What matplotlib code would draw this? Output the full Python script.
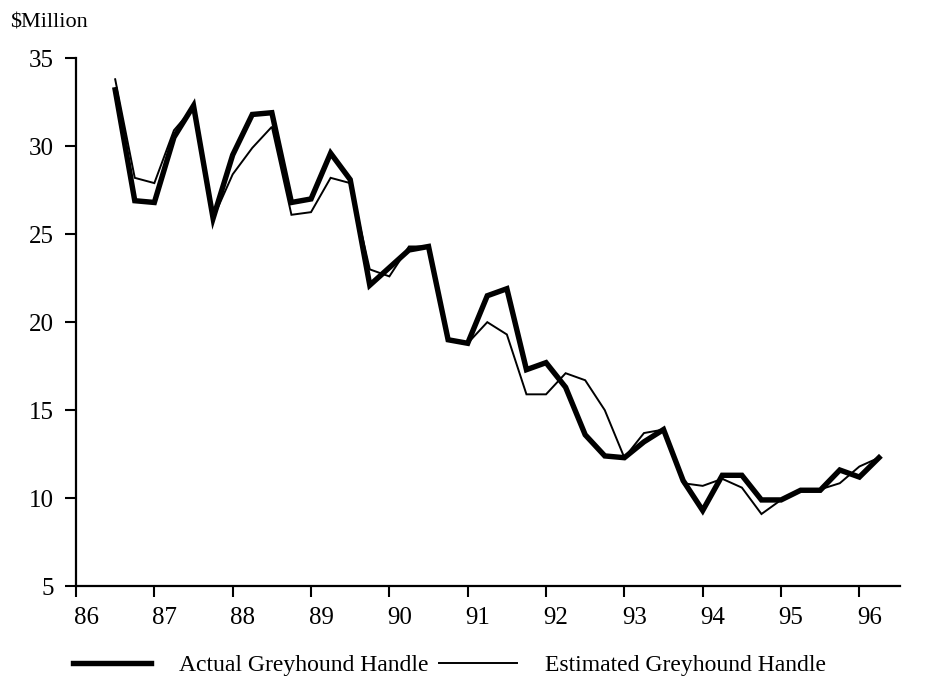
import numpy as np
import matplotlib
matplotlib.use('Agg')
import matplotlib.pyplot as plt
import matplotlib.transforms as mtransforms
from matplotlib.lines import Line2D

plt.rcParams.update({
    'font.family': ['Liberation Serif', 'DejaVu Serif'],
    'font.size': 16,
})

# quarterly observations, 1986 Q3 .. 1996 Q2
quarters = np.arange(86.5, 96.26, 0.25)
actual = [33.2, 26.9, 26.8, 30.5, 32.3, 25.9, 29.5, 31.8, 31.9, 26.8,
          27.0, 29.6, 28.1, 22.1, 23.1, 24.1, 24.3, 19.0, 18.8, 21.5,
          21.9, 17.3, 17.7, 16.3, 13.6, 12.4, 12.3, 13.2, 13.9, 11.0,
          9.3, 11.3, 11.3, 9.9, 9.9, 10.45, 10.45, 11.6, 11.2, 12.3]
estimated = [33.8, 28.2, 27.9, 30.9, 32.2, 25.9, 28.4, 29.9, 31.1, 26.1,
             26.25, 28.2, 27.9, 23.0, 22.6, 24.3, 24.3, 19.0, 18.8, 20.0,
             19.3, 15.9, 15.9, 17.1, 16.7, 15.0, 12.3, 13.7, 13.9, 10.85,
             10.7, 11.1, 10.6, 9.1, 9.9, 10.4, 10.5, 10.85, 11.8, 12.3]
years = list(range(86, 97))
yticks = [5, 10, 15, 20, 25, 30, 35]

fig = plt.figure(figsize=(9.27, 6.84), dpi=100)
ax = fig.add_axes([0.082, 0.143, 0.889, 0.772])

ax.plot(quarters, estimated, color='black', lw=1.4, solid_joinstyle='miter')
ax.plot(quarters, actual, color='black', lw=3.9, solid_joinstyle='miter')

ax.set_xlim(86, 96.52)
ax.set_ylim(5, 35)
ax.set_xticks(years)
ax.set_xticklabels([str(y) for y in years])
ax.set_yticks(yticks)
ax.tick_params(direction='out', length=8, width=1.5, labelsize=18)
ax.tick_params(axis='x', pad=7)
ax.tick_params(axis='y', pad=8)

# year labels sit a little to the right of their ticks in the original
shift = mtransforms.ScaledTranslation(10 / 100, 0, fig.dpi_scale_trans)
for lbl in ax.get_xticklabels():
    lbl.set_transform(lbl.get_transform() + shift)

for s in ['top', 'right']:
    ax.spines[s].set_visible(False)
for s in ['left', 'bottom']:
    ax.spines[s].set_linewidth(1.6)

fig.text(0.011, 0.966, '\\$Million', fontsize=16, ha='left', va='center')

handles = [Line2D([], [], color='black', lw=3.9),
           Line2D([], [], color='black', lw=1.4)]
fig.legend(handles, ['Actual Greyhound Handle', 'Estimated Greyhound Handle'],
           loc='center', bbox_to_anchor=(0.485, 0.027), ncol=2, frameon=False,
           fontsize=17, handlelength=3.3, columnspacing=0.45, handletextpad=1.2)

fig.savefig('out.png', dpi=100)
